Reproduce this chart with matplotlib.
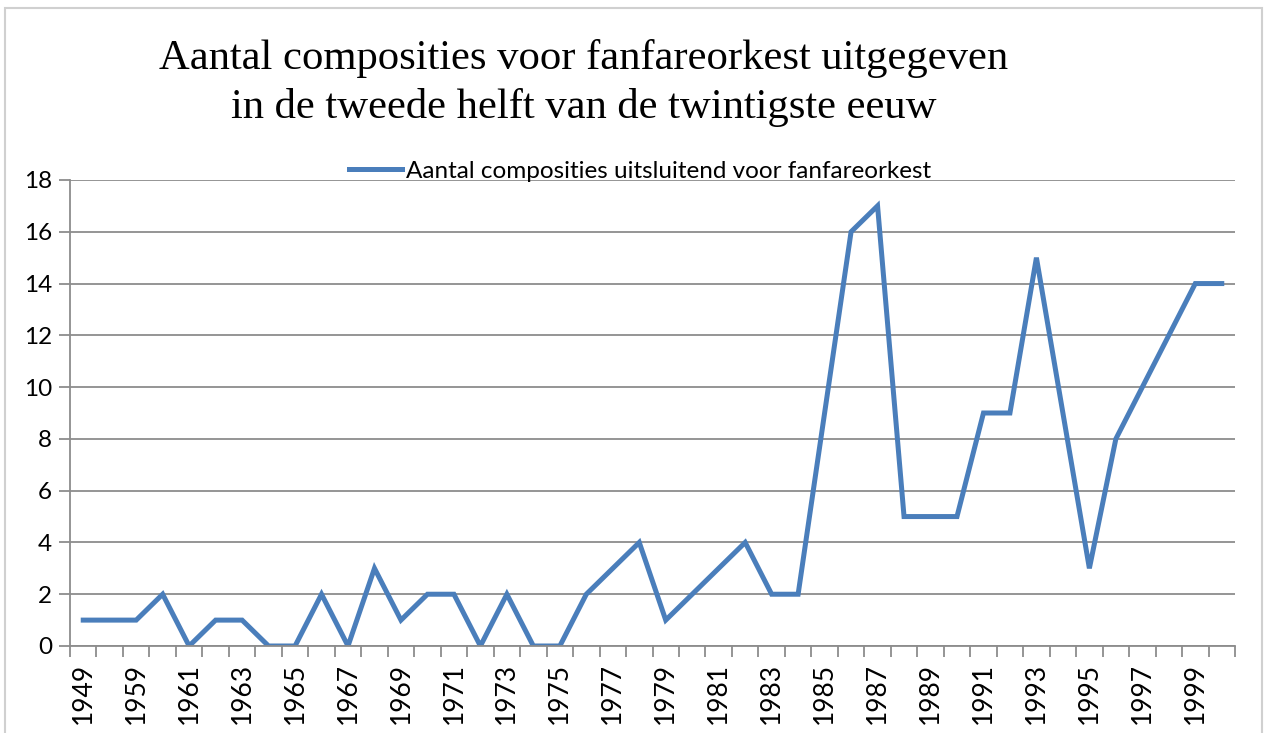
import matplotlib.pyplot as plt
from matplotlib.patches import Rectangle

# categories (years) and number of compositions
years = ['1949', '1958'] + [str(y) for y in range(1959, 2001)]
counts = [1, 1, 1, 2, 0, 1, 1, 0, 0, 2,
          0, 3, 1, 2, 2, 0, 2, 0, 0, 2,
          3, 4, 1, 2, 3, 4, 2, 2, 9, 16,
          17, 5, 5, 5, 9, 9, 15, 9, 3, 8,
          10, 12, 14, 14]

title = 'Aantal composities voor fanfareorkest uitgegeven\nin de tweede helft van de twintigste eeuw'
series_name = 'Aantal composities uitsluitend voor fanfareorkest'

line_color = '#4a7ebb'
grid_color = '#8c8c8c'

fig = plt.figure(figsize=(12.65, 7.33), dpi=100)
ax = fig.add_axes([70 / 1265, 87 / 733, 1165 / 1265, 466 / 733])

x = list(range(len(years)))
ax.plot(x, counts, color=line_color, linewidth=3.6, solid_joinstyle='miter',
        label=series_name)

ax.set_xlim(-0.5, len(years) - 0.5)
ax.set_ylim(0, 18)
ax.set_yticks(range(0, 19, 2))
ax.grid(axis='y', color=grid_color, linewidth=1.3)
ax.set_axisbelow(True)

# labels every second category, tick marks on category boundaries
ax.set_xticks(x[::2])
ax.set_xticklabels(years[::2], rotation=90, fontsize=19, family='Lato')
ax.set_xticks([i - 0.5 for i in range(len(years) + 1)], minor=True)
ax.tick_params(axis='x', which='major', length=0, pad=12)
ax.tick_params(axis='x', which='minor', length=8, color=grid_color, width=1.3)
ax.tick_params(axis='y', length=8, color=grid_color, width=1.3, labelsize=17.5, pad=5)
for lbl in ax.get_yticklabels():
    lbl.set_family('Lato')

for side in ['top', 'right']:
    ax.spines[side].set_visible(False)
for side in ['left', 'bottom']:
    ax.spines[side].set_color(grid_color)
    ax.spines[side].set_linewidth(1.3)

fig.text(584 / 1265, 1 - 83 / 733, title, ha='center', va='center',
         family='Liberation Serif', fontsize=30.7, linespacing=1.32)

fig.legend(loc='center', bbox_to_anchor=(640 / 1265, 1 - 171 / 733), frameon=False,
           prop={'family': 'Lato', 'size': 17.5}, handlelength=2.2, handletextpad=0.15)

# outer chart border
fig.patches.append(Rectangle((5 / 1265, -0.01), 1257 / 1265, 1 - 8 / 733 + 0.01,
                             transform=fig.transFigure, fill=False,
                             edgecolor='#d0d0d0', linewidth=1.5))

fig.savefig('out.png', dpi=100)
